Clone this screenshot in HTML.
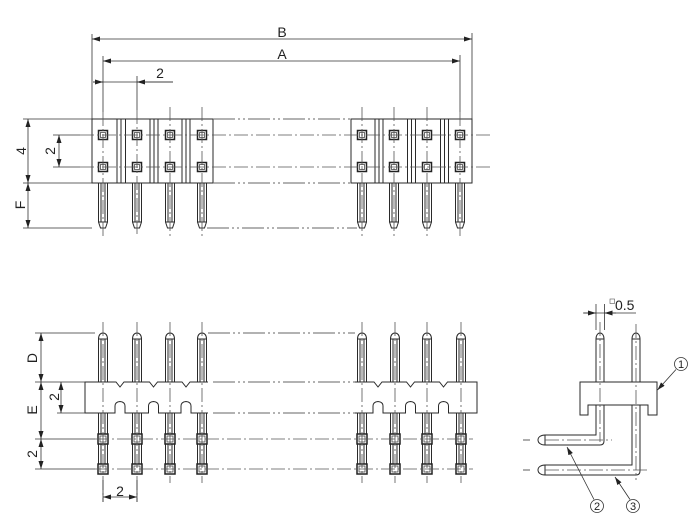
<!DOCTYPE html>
<html><head><meta charset="utf-8">
<style>
html,body{margin:0;padding:0;background:#fff;}
svg{display:block;}
.o{fill:none;stroke:#2a2a2a;stroke-width:1;}
.w{fill:#fff;stroke:#2a2a2a;stroke-width:1;}
.d{fill:none;stroke:#333;stroke-width:0.8;}
.c{fill:none;stroke:#555;stroke-width:0.8;stroke-dasharray:14 3 2 3;}
.p{fill:none;stroke:#666;stroke-width:0.9;stroke-dasharray:22 3 2 3 2 3;}
.sq{fill:#fff;stroke:#222;stroke-width:1.5;}
.sqi{fill:none;stroke:#333;stroke-width:0.7;}
text{font-family:"Liberation Sans",sans-serif;font-size:14px;fill:#222;}
.cn{font-size:11px;}
</style></head>
<body>
<svg width="700" height="523" viewBox="0 0 700 523" xmlns="http://www.w3.org/2000/svg">
<defs>
<marker id="ar" viewBox="0 0 8 5" refX="8" refY="2.5" markerWidth="8" markerHeight="5" orient="auto-start-reverse" markerUnits="userSpaceOnUse"><path d="M0,0L8,2.5L0,5z" fill="#222"/></marker>
<g id="tlead">
<path class="o" d="M-4.5,183V222L-2.5,228H2.5L4.5,222V183M-2,183V222M2,183V222M-4.5,222H4.5"/>
</g>
<g id="tsq">
<rect class="sq" x="-4.5" y="130.5" width="9" height="9"/>
<rect class="sqi" x="-2.5" y="132.5" width="5" height="5"/>
<rect class="sq" x="-4.5" y="162.5" width="9" height="9"/>
<rect class="sqi" x="-2.5" y="164.5" width="5" height="5"/>
</g>
<g id="bpin">
<path class="w" d="M-4.5,474V339C-4.5,335 -2.5,333 0,333C2.5,333 4.5,335 4.5,339V474Z"/>
<path class="o" d="M-4.5,339H4.5M-2,339V474M2,339V474"/>
<rect class="sq" x="-5" y="434" width="10" height="10"/>
<rect class="sqi" x="-3" y="436" width="6" height="6"/>
<rect class="sq" x="-5" y="464" width="10" height="10"/>
<rect class="sqi" x="-3" y="466" width="6" height="6"/>
</g>
</defs>

<!-- ================= TOP VIEW ================= -->
<!-- dims top -->
<line class="d" x1="92" y1="34" x2="92" y2="119"/>
<line class="d" x1="472" y1="33" x2="472" y2="119"/>
<line class="d" x1="92" y1="39" x2="472" y2="39" marker-start="url(#ar)" marker-end="url(#ar)"/>
<text x="282" y="37" text-anchor="middle">B</text>
<line class="d" x1="103" y1="56" x2="103" y2="112"/>
<line class="d" x1="460" y1="55" x2="460" y2="112"/>
<line class="d" x1="103" y1="61" x2="460" y2="61" marker-start="url(#ar)" marker-end="url(#ar)"/>
<text x="282" y="59" text-anchor="middle">A</text>
<line class="d" x1="137" y1="76" x2="137" y2="110"/>
<line class="d" x1="93" y1="82" x2="173" y2="82"/>
<line class="d" x1="93" y1="82" x2="103" y2="82" marker-end="url(#ar)"/>
<line class="d" x1="173" y1="82" x2="137" y2="82" marker-end="url(#ar)"/>
<text x="160" y="78" text-anchor="middle">2</text>

<!-- left dims top view -->
<line class="d" x1="23" y1="119" x2="92" y2="119"/>
<line class="d" x1="23" y1="183" x2="92" y2="183"/>
<line class="d" x1="23" y1="228" x2="92" y2="228"/>
<line class="d" x1="28" y1="119" x2="28" y2="183" marker-start="url(#ar)" marker-end="url(#ar)"/>
<line class="d" x1="28" y1="183" x2="28" y2="228" marker-start="url(#ar)" marker-end="url(#ar)"/>
<line class="d" x1="53" y1="135" x2="80" y2="135"/>
<line class="d" x1="53" y1="167" x2="80" y2="167"/>
<line class="d" x1="59" y1="135" x2="59" y2="167" marker-start="url(#ar)" marker-end="url(#ar)"/>
<text x="21" y="156" text-anchor="middle" transform="rotate(-90 21 151)">4</text>
<text x="50" y="156" text-anchor="middle" transform="rotate(-90 50 151)">2</text>
<text x="20" y="210" text-anchor="middle" transform="rotate(-90 20 205)">F</text>

<!-- leads -->
<use href="#tlead" x="103"/><use href="#tlead" x="137"/><use href="#tlead" x="170"/><use href="#tlead" x="202"/>
<use href="#tlead" x="362"/><use href="#tlead" x="394"/><use href="#tlead" x="427"/><use href="#tlead" x="460"/>

<!-- bodies -->
<rect class="w" x="92" y="119" width="121" height="64"/>
<rect class="w" x="351" y="119" width="121" height="64"/>
<path class="o" stroke-width="0.9" d="M117,119V183M121,119V183M125.5,119V183M150,119V183M154,119V183M158,119V183M182,119V183M186,119V183M190,119V183
M375,119V183M379,119V183M383,119V183M407.5,119V183M411.5,119V183M415.5,119V183M440.5,119V183M444.5,119V183M448.5,119V183"/>
<use href="#tsq" x="103"/><use href="#tsq" x="137"/><use href="#tsq" x="170"/><use href="#tsq" x="202"/>
<use href="#tsq" x="362"/><use href="#tsq" x="394"/><use href="#tsq" x="427"/><use href="#tsq" x="460"/>

<!-- phantom top view -->
<line class="p" x1="213" y1="119" x2="351" y2="119"/>
<line class="p" x1="213" y1="183" x2="351" y2="183"/>
<line class="p" x1="207" y1="228" x2="357" y2="228"/>
<!-- row centerlines -->
<line class="c" x1="80" y1="135" x2="490" y2="135"/>
<line class="c" x1="80" y1="167" x2="490" y2="167"/>
<!-- vertical centerlines top view -->
<g class="c">
<line x1="103" y1="112" x2="103" y2="236"/>
<line x1="137" y1="110" x2="137" y2="236"/>
<line x1="170" y1="107" x2="170" y2="236"/>
<line x1="202" y1="107" x2="202" y2="236"/>
<line x1="362" y1="107" x2="362" y2="236"/>
<line x1="394" y1="107" x2="394" y2="236"/>
<line x1="427" y1="107" x2="427" y2="236"/>
<line x1="460" y1="112" x2="460" y2="236"/>
</g>

<!-- ================= BOTTOM (FRONT) VIEW ================= -->
<use href="#bpin" x="103"/><use href="#bpin" x="137"/><use href="#bpin" x="170"/><use href="#bpin" x="202"/>
<use href="#bpin" x="362"/><use href="#bpin" x="395"/><use href="#bpin" x="427"/><use href="#bpin" x="461"/>

<path class="w" d="M208,382H190L186,387L182,382H157.5L153.5,387L149.5,382H124L120,387L116,382H85V413H115V406Q115,402 120,401.5Q125,402 125,406V413H148.5V406Q148.5,402 153.5,401.5Q158.5,402 158.5,406V413H181V406Q181,402 186,401.5Q191,402 191,406V413H208"/>
<path class="w" d="M355,382H374L378,387L382,382H406.5L410.5,387L414.5,382H439.5L443.5,387L447.5,382H477V413H448.5V406Q448.5,402 443.5,401.5Q438.5,402 438.5,406V413H415.5V406Q415.5,402 410.5,401.5Q405.5,402 405.5,406V413H383V406Q383,402 378,401.5Q373,402 373,406V413H355"/>

<!-- phantom bottom view -->
<line class="p" x1="208" y1="333" x2="355" y2="333"/>
<line class="p" x1="213" y1="382" x2="355" y2="382"/>
<line class="p" x1="213" y1="413" x2="355" y2="413"/>
<!-- horizontal lines -->
<line class="d" x1="35" y1="439" x2="95" y2="439"/>
<line class="d" x1="35" y1="469" x2="95" y2="469"/>
<line class="c" x1="95" y1="439" x2="473" y2="439" stroke="#333"/>
<line class="c" x1="95" y1="469" x2="473" y2="469" stroke="#333"/>
<!-- vertical centerlines bottom view -->
<g class="c">
<line x1="103" y1="322" x2="103" y2="502"/>
<line x1="137" y1="322" x2="137" y2="502"/>
<line x1="170" y1="322" x2="170" y2="483"/>
<line x1="202" y1="322" x2="202" y2="483"/>
<line x1="362" y1="322" x2="362" y2="483"/>
<line x1="395" y1="322" x2="395" y2="483"/>
<line x1="427" y1="322" x2="427" y2="483"/>
<line x1="461" y1="322" x2="461" y2="483"/>
</g>
<line class="d" x1="103" y1="480" x2="103" y2="502"/>
<line class="d" x1="137" y1="480" x2="137" y2="502"/>

<!-- left dims bottom view -->
<line class="d" x1="35" y1="333" x2="95" y2="333"/>
<line class="d" x1="35" y1="382" x2="85" y2="382"/>
<line class="d" x1="57" y1="413" x2="85" y2="413"/>
<line class="d" x1="41" y1="333" x2="41" y2="382" marker-start="url(#ar)" marker-end="url(#ar)"/>
<line class="d" x1="41" y1="382" x2="41" y2="439" marker-start="url(#ar)" marker-end="url(#ar)"/>
<line class="d" x1="41" y1="439" x2="41" y2="469" marker-start="url(#ar)" marker-end="url(#ar)"/>
<line class="d" x1="61" y1="382" x2="61" y2="413" marker-start="url(#ar)" marker-end="url(#ar)"/>
<text x="32" y="363" text-anchor="middle" transform="rotate(-90 32 358)">D</text>
<text x="32" y="415" text-anchor="middle" transform="rotate(-90 32 410)">E</text>
<text x="54" y="402" text-anchor="middle" transform="rotate(-90 54 397)">2</text>
<text x="32" y="459" text-anchor="middle" transform="rotate(-90 32 454)">2</text>
<line class="d" x1="103" y1="497" x2="137" y2="497" marker-start="url(#ar)" marker-end="url(#ar)"/>
<text x="120" y="496" text-anchor="middle">2</text>

<!-- ================= SIDE VIEW ================= -->
<path class="w" d="M596,339V435H545C541,435 538,437 538,440C538,443 541,445 545,445H600Q604,445 604,441V339Z"/>
<path class="o" d="M596,339C596,335 598,333 600,333C602,333 604,335 604,339M545,435V445"/>
<path class="w" d="M632,339V465H545C541,465 538,467 538,470C538,473 541,475 545,475H636Q640,475 640,471V339Z"/>
<path class="o" d="M632,339C632,335 634,333 636,333C638,333 640,335 640,339M545,465V475"/>
<path class="w" d="M580,382H657V415H648V405H588V415H580Z"/>
<g class="c">
<line x1="600" y1="322" x2="600" y2="442"/>
<line x1="636" y1="324" x2="636" y2="480"/>
<line x1="545" y1="440" x2="612" y2="440"/>
<line x1="545" y1="470" x2="647" y2="470"/>
</g>
<line class="d" x1="523" y1="440" x2="530" y2="440"/>
<line class="d" x1="523" y1="470" x2="530" y2="470"/>
<!-- 0.5 dim -->
<line class="d" x1="596" y1="304" x2="596" y2="330"/>
<line class="d" x1="604.5" y1="304" x2="604.5" y2="330"/>
<line class="d" x1="583" y1="313" x2="636" y2="313"/>
<line class="d" x1="584" y1="313" x2="596" y2="313" marker-end="url(#ar)"/>
<line class="d" x1="616" y1="313" x2="604.5" y2="313" marker-end="url(#ar)"/>
<rect x="610" y="299" width="4.5" height="4.5" fill="none" stroke="#555" stroke-width="0.6"/>
<text x="615" y="310">0.5</text>
<!-- callouts -->
<circle cx="681" cy="364" r="6.5" fill="none" stroke="#333" stroke-width="0.8"/>
<text class="cn" x="681" y="368" text-anchor="middle">1</text>
<line class="d" x1="676" y1="369.5" x2="657.5" y2="390" marker-end="url(#ar)"/>
<circle cx="597" cy="506" r="6.5" fill="none" stroke="#333" stroke-width="0.8"/>
<text class="cn" x="597" y="510" text-anchor="middle">2</text>
<line class="d" x1="594" y1="499.5" x2="567" y2="447" marker-end="url(#ar)"/>
<circle cx="633" cy="506" r="6.5" fill="none" stroke="#333" stroke-width="0.8"/>
<text class="cn" x="633" y="510" text-anchor="middle">3</text>
<line class="d" x1="630" y1="499.5" x2="615" y2="477" marker-end="url(#ar)"/>
</svg>
</body></html>
